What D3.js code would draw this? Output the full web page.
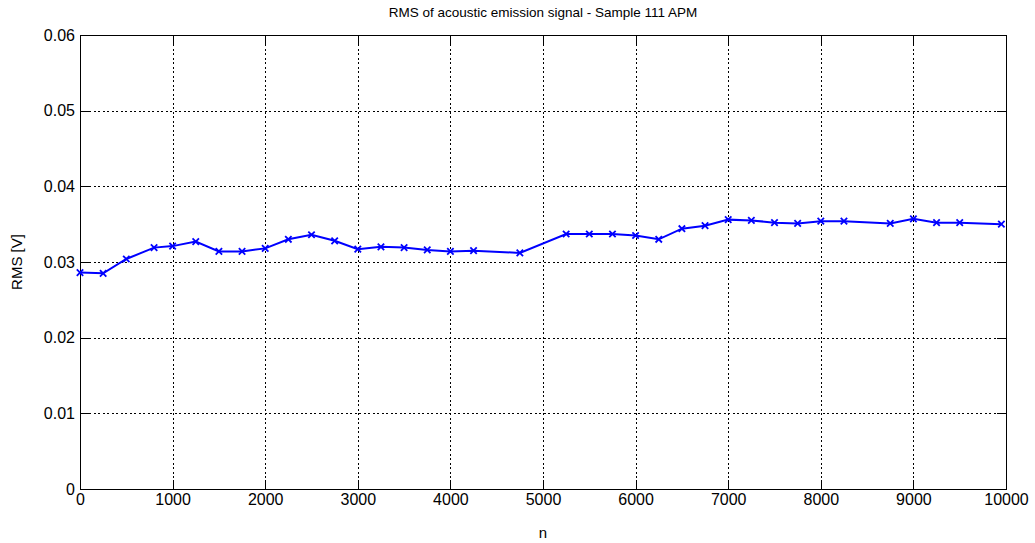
<!DOCTYPE html>
<html>
<head>
<meta charset="utf-8">
<script src="https://cdn.jsdelivr.net/npm/d3@7"></script>
<style>
  body { margin: 0; background: #fff; }
  svg { display: block; font-family: "Liberation Sans", Arial, sans-serif; }
</style>
</head>
<body>
<svg id="chart" width="1035" height="543"></svg>
<script>
// Sample number at which each RMS value was taken
const sampleN = [0, 250, 500, 800, 1000, 1250, 1500, 1750, 2000, 2250, 2500, 2750,
  3000, 3250, 3500, 3750, 4000, 4250, 4750, 5250, 5500, 5750, 6000, 6250, 6500,
  6750, 7000, 7250, 7500, 7750, 8000, 8250, 8750, 9000, 9250, 9500, 9950];
// RMS of the acoustic emission signal [V]
const rmsValues = [0.0286, 0.0285, 0.0304, 0.0319, 0.0321, 0.0327, 0.0314, 0.0314,
  0.0318, 0.0330, 0.0336, 0.0328, 0.0317, 0.0320, 0.0319, 0.0316, 0.0314, 0.0315,
  0.0312, 0.0337, 0.0337, 0.0337, 0.0335, 0.0330, 0.0344, 0.0348, 0.0356, 0.0355,
  0.0352, 0.0351, 0.0354, 0.0354, 0.0351, 0.0357, 0.0352, 0.0352, 0.0350];
const xTicks = [0, 1000, 2000, 3000, 4000, 5000, 6000, 7000, 8000, 9000, 10000];
const yTicks = [0, 0.01, 0.02, 0.03, 0.04, 0.05, 0.06];
const titleText = "RMS of acoustic emission signal - Sample 111 APM";
const xLabel = "n";
const yLabel = "RMS [V]";

const svg = d3.select("#chart");
const L = 80, R = 1006, T = 35, B = 489;
const x = d3.scaleLinear().domain([0, 10000]).range([L, R]);
const y = d3.scaleLinear().domain([0, 0.06]).range([B, T]);
const snap = v => Math.round(v) + 0.5;

// dotted grid
const grid = svg.append("g").attr("stroke", "#000").attr("stroke-width", 1)
  .attr("stroke-dasharray", "2,2.5").attr("shape-rendering", "crispEdges");
xTicks.slice(1, -1).forEach(t => {
  grid.append("line").attr("x1", snap(x(t))).attr("x2", snap(x(t)))
    .attr("y1", T).attr("y2", B);
});
yTicks.slice(1, -1).forEach(t => {
  grid.append("line").attr("y1", snap(y(t))).attr("y2", snap(y(t)))
    .attr("x1", L).attr("x2", R);
});

// axes with inward ticks on all four sides
const tickLen = 9;
const fmtY = d => d === 0 ? "0" : d3.format(".2f")(d);
const axB = d3.axisBottom(x).tickValues(xTicks).tickSizeInner(-tickLen).tickSizeOuter(0).tickPadding(5).tickFormat(d3.format("d"));
const axT = d3.axisTop(x).tickValues(xTicks).tickSizeInner(-tickLen).tickSizeOuter(0).tickFormat("");
const axL = d3.axisLeft(y).tickValues(yTicks).tickSizeInner(-tickLen).tickSizeOuter(0).tickPadding(5).tickFormat(fmtY);
const axR = d3.axisRight(y).tickValues(yTicks).tickSizeInner(-tickLen).tickSizeOuter(0).tickFormat("");

function styleAxis(g) {
  g.selectAll("path").attr("stroke", "#000").attr("shape-rendering", "crispEdges");
  g.selectAll("line").attr("stroke", "#000").attr("shape-rendering", "crispEdges");
  g.selectAll("text").attr("fill", "#000").style("font-size", "16px")
    .style("font-family", "'Liberation Sans', Arial, sans-serif");
}
svg.append("g").attr("transform", `translate(0,${B})`).call(axB).call(styleAxis);
svg.append("g").attr("transform", `translate(0,${T})`).call(axT).call(styleAxis);
svg.append("g").attr("transform", `translate(${L},0)`).call(axL).call(styleAxis);
svg.append("g").attr("transform", `translate(${R},0)`).call(axR).call(styleAxis);

// data line with x markers
const pts = sampleN.map((n, i) => [n, rmsValues[i]]);
svg.append("path").datum(pts)
  .attr("fill", "none").attr("stroke", "#0000ff").attr("stroke-width", 2)
  .attr("d", d3.line().x(d => x(d[0])).y(d => y(d[1])));
const m = 3.2;
svg.append("g").selectAll("path").data(pts).join("path")
  .attr("fill", "none").attr("stroke", "#0000ff").attr("stroke-width", 1.8)
  .attr("d", d => {
    const cx = x(d[0]), cy = y(d[1]);
    return `M${cx - m},${cy - m}L${cx + m},${cy + m}M${cx - m},${cy + m}L${cx + m},${cy - m}`;
  });

// labels
svg.append("text").attr("x", (L + R) / 2).attr("y", 17).attr("text-anchor", "middle")
  .style("font-size", "13.5px").text(titleText);
svg.append("text").attr("x", (L + R) / 2).attr("y", 538).attr("text-anchor", "middle")
  .style("font-size", "15px").text(xLabel);
svg.append("text").attr("transform", `translate(22,${(T + B) / 2}) rotate(-90)`)
  .attr("text-anchor", "middle").style("font-size", "15px").text(yLabel);
</script>
</body>
</html>
